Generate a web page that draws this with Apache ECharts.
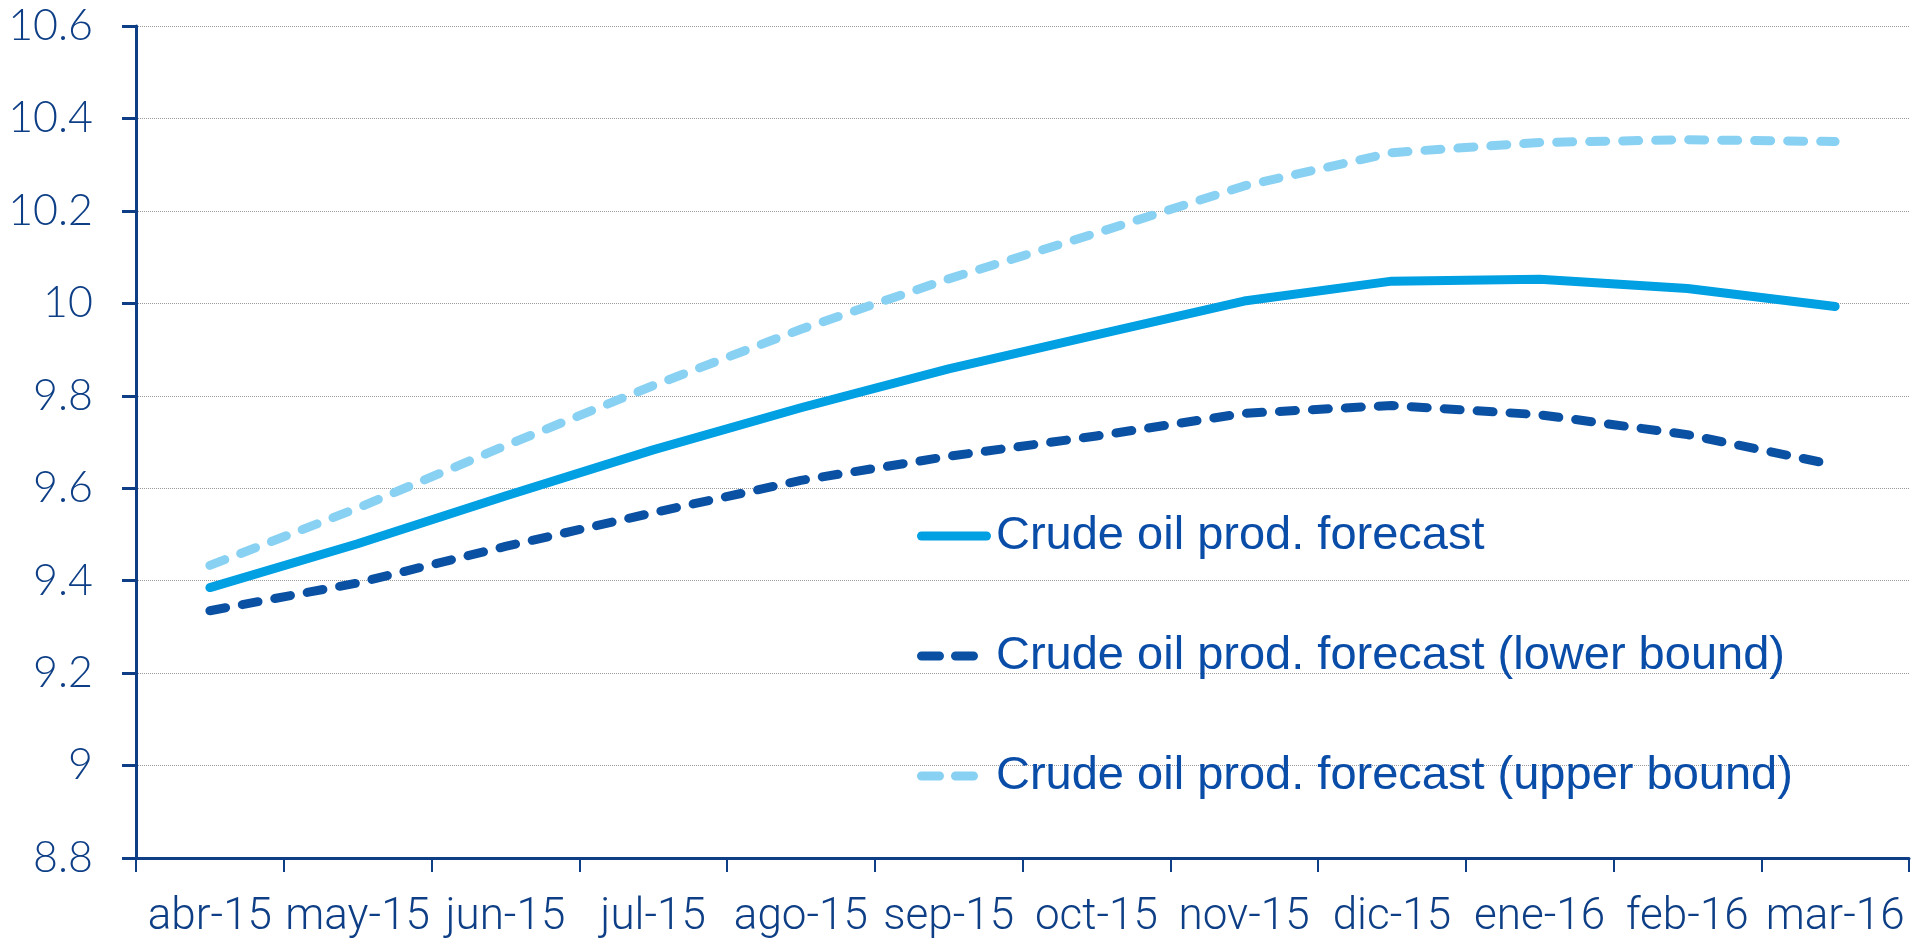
<!DOCTYPE html>
<html>
<head>
<meta charset="utf-8">
<script src="https://cdn.jsdelivr.net/npm/echarts@6/dist/echarts.min.js"></script>
<style>
html,body{margin:0;padding:0;background:#fff;}
#c{width:1931px;height:944px;}
</style>
</head>
<body>
<div id="c"></div>
<script>
const categories = ['abr-15','may-15','jun-15','jul-15','ago-15','sep-15','oct-15','nov-15','dic-15','ene-16','feb-16','mar-16'];
const forecast = [9.385, 9.48, 9.583, 9.683, 9.774, 9.858, 9.932, 10.005, 10.048, 10.052, 10.032, 9.993];
const lowerBound = [9.335, 9.395, 9.474, 9.547, 9.617, 9.669, 9.713, 9.762, 9.779, 9.759, 9.716, 9.65];
const upperBound = [9.433, 9.557, 9.692, 9.822, 9.944, 10.053, 10.152, 10.254, 10.326, 10.348, 10.354, 10.35];
const seriesNames = ['Crude oil prod. forecast', 'Crude oil prod. forecast (lower bound)', 'Crude oil prod. forecast (upper bound)'];

function capsule(x0, x1) {
  return 'M' + (x0 + 4.5) + ' 0 L' + (x1 - 4.5) + ' 0 A4.5 4.5 0 0 1 ' + (x1 - 4.5) + ' 9 L' + (x0 + 4.5) + ' 9 A4.5 4.5 0 0 1 ' + (x0 + 4.5) + ' 0 Z';
}
const solidIcon = 'path://' + capsule(0, 74);
const dashIcon = 'path://' + capsule(0, 27) + ' ' + capsule(34, 61) + ' M74 0 L74 0 M74 9 L74 9';

const navy = '#0E3F86';
const chart = echarts.init(document.getElementById('c'), null, {renderer:'canvas'});
chart.setOption({
  animation:false,
  backgroundColor:'#ffffff',
  grid:{left:136, right:22, top:26, bottom:86, containLabel:false},
  legend:{
    orient:'vertical', left:912, top:503,
    itemWidth:74, itemHeight:9, itemGap:64,
    textStyle:{fontFamily:'Liberation Sans, Arial, sans-serif', fontSize:47, color:'#0A4DA8', lineHeight:56},
    data:[
      {name:seriesNames[0], icon:solidIcon},
      {name:seriesNames[1], icon:dashIcon},
      {name:seriesNames[2], icon:dashIcon}
    ]
  },
  xAxis:{
    type:'category', data:categories, boundaryGap:true,
    axisLine:{lineStyle:{color:navy, width:3}},
    axisTick:{show:true, length:14, lineStyle:{color:navy, width:2}},
    axisLabel:{fontFamily:'Roboto, sans-serif', fontWeight:300, fontSize:44, color:navy, margin:38, interval:0}
  },
  yAxis:{
    type:'value', min:8.8, max:10.6, interval:0.2,
    axisLine:{show:true, lineStyle:{color:navy, width:3}},
    axisTick:{show:true, length:14, lineStyle:{color:navy, width:3}},
    axisLabel:{fontFamily:'Lato, sans-serif', fontWeight:300, fontSize:43, color:navy, margin:43},
    splitLine:{show:true, lineStyle:{color:'#999999', width:1, type:'dotted'}}
  },
  series:[
    {name:seriesNames[0], type:'line', data:forecast, symbol:'none', z:3,
     lineStyle:{color:'#00A0E3', width:9, cap:'round', join:'round'}, itemStyle:{color:'#00A0E3'}},
    {name:seriesNames[1], type:'line', data:lowerBound, symbol:'none', z:2,
     lineStyle:{color:'#0A50A3', width:9, type:[16,17], cap:'round', join:'round'}, itemStyle:{color:'#0A50A3'}},
    {name:seriesNames[2], type:'line', data:upperBound, symbol:'none', z:2,
     lineStyle:{color:'#88D1F3', width:9, type:[16,17], cap:'round', join:'round'}, itemStyle:{color:'#88D1F3'}}
  ]
});
</script>
</body>
</html>
